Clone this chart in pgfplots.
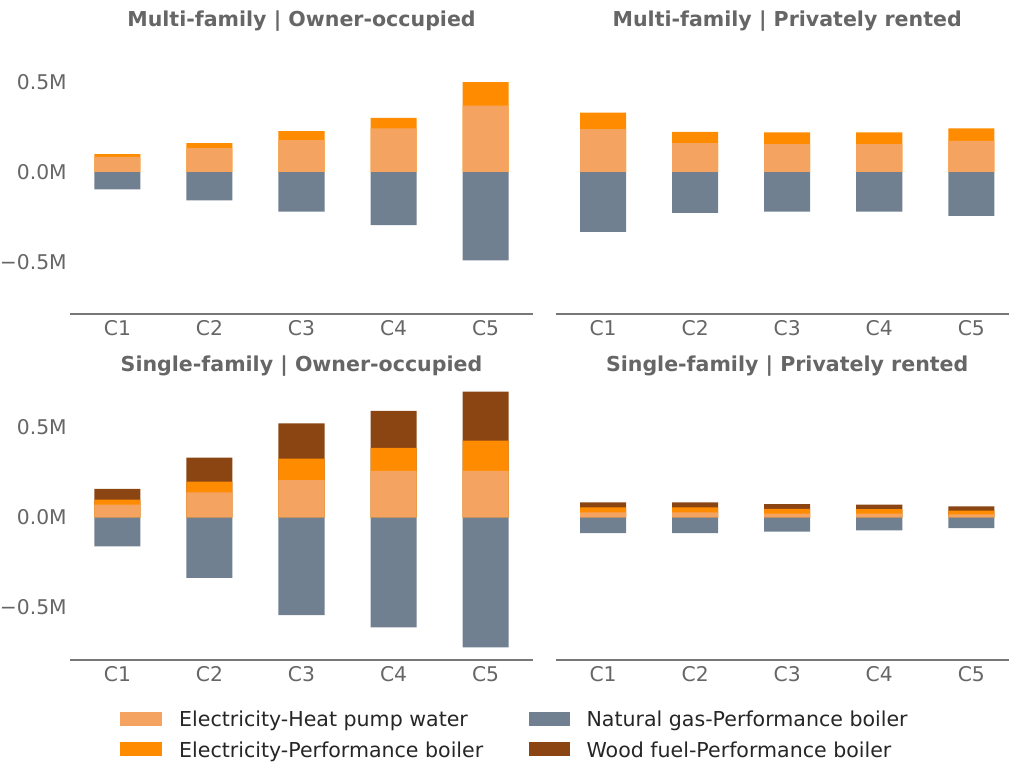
\documentclass[border=0pt]{standalone}
\usepackage{pgfplots}
\pgfplotsset{compat=1.18}
\usepackage{pgfplotstable}
\usepackage{fontspec}
\setmainfont{DejaVu Sans}
\definecolor{hpc}{HTML}{F4A460}
\definecolor{pfc}{HTML}{FF8C00}
\definecolor{gsc}{HTML}{708090}
\definecolor{wdc}{HTML}{8B4513}
\definecolor{txt}{HTML}{666666}
\definecolor{axl}{HTML}{777777}

\pgfplotstableread{
x hp perf wood gas
0 0.085 0.015 0 -0.096
1 0.133 0.028 0 -0.157
2 0.178 0.050 0 -0.220
3 0.243 0.059 0 -0.294
4 0.370 0.130 0 -0.490
}\MO
\pgfplotstableread{
x hp perf wood gas
0 0.239 0.091 0 -0.332
1 0.161 0.063 0 -0.226
2 0.156 0.065 0 -0.220
3 0.156 0.065 0 -0.220
4 0.174 0.069 0 -0.243
}\MR
\pgfplotstableread{
x hp perf wood gas
0 0.072 0.028 0.059 -0.161
1 0.139 0.061 0.132 -0.335
2 0.207 0.120 0.196 -0.543
3 0.259 0.128 0.206 -0.611
4 0.259 0.168 0.272 -0.722
}\SO
\pgfplotstableread{
x hp perf wood gas
0 0.028 0.028 0.028 -0.087
1 0.028 0.028 0.028 -0.087
2 0.022 0.026 0.026 -0.078
3 0.021 0.026 0.024 -0.072
4 0.017 0.021 0.024 -0.059
}\SR

\pgfplotsset{
  panel/.style={
    scale only axis, width=333.36pt, height=203.47pt,
    xmin=-0.515, xmax=4.515, ymin=-0.79, ymax=0.78,
    axis x line=bottom, axis y line=left,
    axis line style={-}, y axis line style={draw=none},
    x axis line style={draw=axl, line width=1.5pt},
    major tick length=0pt,
    xtick={0,1,2,3,4}, xticklabels={C1,C2,C3,C4,C5},
    ytick={-0.5,0,0.5}, yticklabels={−0.5M,0.0M,0.5M},
    tick label style={font=\fontsize{14.6}{17}\selectfont, text=txt},
    xticklabel style={anchor=base, yshift=-15.6pt},
    yticklabel style={anchor=east, inner sep=0pt, xshift=-2.2pt},
    every axis title shift=0pt,
    title style={font=\fontsize{14.8}{17}\selectfont\bfseries, text=txt,
      at={(0.5,1)}, anchor=base, inner sep=0pt, yshift=3.9pt},
    clip=false,
  },
  bb/.style={ybar, bar width=0.5, bar shift=0pt, draw=none},
}

\begin{document}
\begin{tikzpicture}
\useasboundingbox (0pt,0pt) rectangle (726.48pt,-548.64pt);

\begin{axis}[panel, at={(50.4pt,-226.3pt)}, anchor=south west,
  title={Multi-family | Owner-occupied}]
\addplot[bb, fill=pfc] table[x=x, y expr=\thisrow{hp}+\thisrow{perf}] {\MO};
\addplot[bb, fill=hpc] table[x=x, y=hp] {\MO};
\addplot[bb, fill=gsc] table[x=x, y=gas] {\MO};
\end{axis}

\begin{axis}[panel, at={(400.1pt,-226.3pt)}, anchor=south west, ytick=\empty,
  title={Multi-family | Privately rented}]
\addplot[bb, fill=pfc] table[x=x, y expr=\thisrow{hp}+\thisrow{perf}] {\MR};
\addplot[bb, fill=hpc] table[x=x, y=hp] {\MR};
\addplot[bb, fill=gsc] table[x=x, y=gas] {\MR};
\end{axis}

\begin{axis}[panel, at={(50.4pt,-474.98pt)}, anchor=south west,
  title={Single-family | Owner-occupied}]
\addplot[bb, fill=wdc] table[x=x, y expr=\thisrow{hp}+\thisrow{perf}+\thisrow{wood}] {\SO};
\addplot[bb, fill=pfc] table[x=x, y expr=\thisrow{hp}+\thisrow{perf}] {\SO};
\addplot[bb, fill=hpc] table[x=x, y=hp] {\SO};
\addplot[bb, fill=gsc] table[x=x, y=gas] {\SO};
\end{axis}

\begin{axis}[panel, at={(400.1pt,-474.98pt)}, anchor=south west, ytick=\empty,
  title={Single-family | Privately rented}]
\addplot[bb, fill=wdc] table[x=x, y expr=\thisrow{hp}+\thisrow{perf}+\thisrow{wood}] {\SR};
\addplot[bb, fill=pfc] table[x=x, y expr=\thisrow{hp}+\thisrow{perf}] {\SR};
\addplot[bb, fill=hpc] table[x=x, y=hp] {\SR};
\addplot[bb, fill=gsc] table[x=x, y=gas] {\SR};
\end{axis}

% legend
\fill[hpc] (86.4pt,-512.42pt) rectangle (116.64pt,-522.72pt);
\fill[pfc] (86.4pt,-534.02pt) rectangle (116.64pt,-544.32pt);
\fill[gsc] (380.52pt,-512.42pt) rectangle (410.04pt,-522.72pt);
\fill[wdc] (380.52pt,-534.02pt) rectangle (410.04pt,-544.32pt);
\begin{scope}[every node/.style={anchor=base west, inner sep=0pt, font=\fontsize{14.8}{17}\selectfont, text=black!85}]
\node at (128.81pt,-523.22pt) {Electricity-Heat pump water};
\node at (128.81pt,-545.54pt) {Electricity-Performance boiler};
\node at (422.14pt,-523.22pt) {Natural gas-Performance boiler};
\node at (422.14pt,-545.54pt) {Wood fuel-Performance boiler};
\end{scope}
\end{tikzpicture}
\end{document}
